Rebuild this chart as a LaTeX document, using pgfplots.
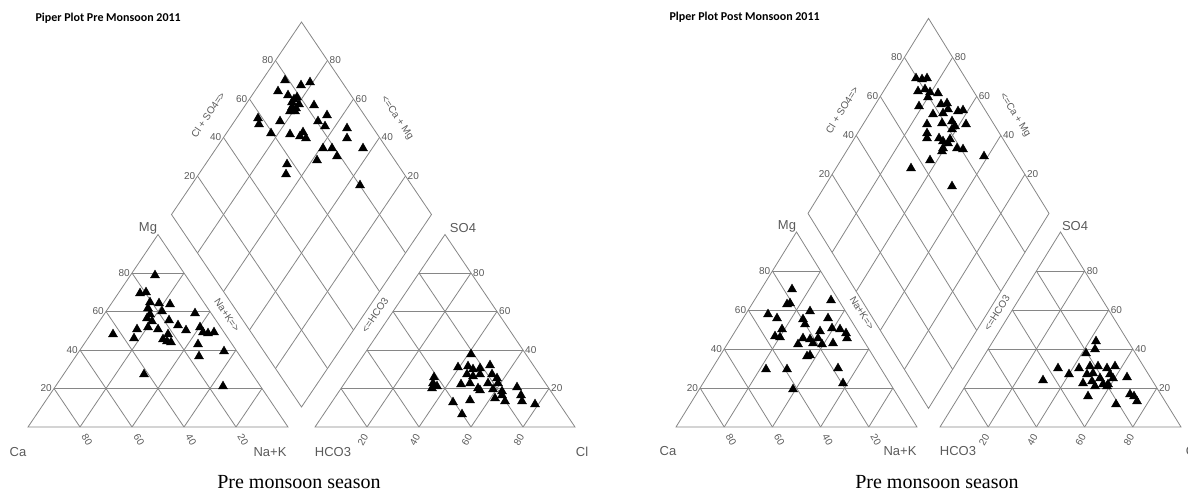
\documentclass[border=0pt]{standalone}
\usepackage{fontspec}
\setmainfont{Liberation Serif}
\newfontfamily\arial{Liberation Sans}
\newfontfamily\calibri{Carlito}
\usepackage{pgfplots}
\pgfplotsset{compat=1.18}
\definecolor{gridc}{HTML}{868686}
\definecolor{txtc}{HTML}{5A5A5A}
\newcommand{\tl}{\fontsize{10}{10}\selectfont\arial\color{txtc}}
\newcommand{\al}{\fontsize{10}{10}\selectfont\arial\color{txtc}}
\newcommand{\cl}{\fontsize{13}{13}\selectfont\arial\color{txtc}}

% #1 x0 (Ca corner), #2 y0 (base), #3 side, #4 height, #5 gap
\newcommand{\piper}[5]{%
\draw[gridc,line width=0.8pt] (#1,#2) -- ({#1+#3},#2) -- ({#1+#3/2},{#2-#4}) -- cycle;
\draw[gridc,line width=0.8pt] ({#1+#3+#5},#2) -- ({#1+2*#3+#5},#2) -- ({#1+1.5*#3+#5},{#2-#4}) -- cycle;
\draw[gridc,line width=0.8pt] ({#1+#3+#5/2},{#2-#4*#5/#3}) -- ({#1+#3/2+#5/2},{#2-#4*#5/#3-#4}) -- ({#1+#3+#5/2},{#2-#4*#5/#3-2*#4}) -- ({#1+1.5*#3+#5/2},{#2-#4*#5/#3-#4}) -- cycle;
\pgfplotsinvokeforeach{1,2,3,4}{%
  \draw[gridc,line width=0.8pt] ({#1+##1/5*#3/2},{#2-##1/5*#4}) -- ({#1+#3-##1/5*#3/2},{#2-##1/5*#4});
  \draw[gridc,line width=0.8pt] ({#1+##1/5*#3},#2) -- ({#1+##1/5*#3+(1-##1/5)*#3/2},{#2-(1-##1/5)*#4});
  \draw[gridc,line width=0.8pt] ({#1+##1/5*#3},#2) -- ({#1+##1/5*#3/2},{#2-##1/5*#4});
  \draw[gridc,line width=0.8pt] ({#1+#3+#5+##1/5*#3/2},{#2-##1/5*#4}) -- ({#1+2*#3+#5-##1/5*#3/2},{#2-##1/5*#4});
  \draw[gridc,line width=0.8pt] ({#1+#3+#5+##1/5*#3},#2) -- ({#1+#3+#5+##1/5*#3+(1-##1/5)*#3/2},{#2-(1-##1/5)*#4});
  \draw[gridc,line width=0.8pt] ({#1+#3+#5+##1/5*#3},#2) -- ({#1+#3+#5+##1/5*#3/2},{#2-##1/5*#4});
  \draw[gridc,line width=0.8pt] ({#1+#3+#5/2-##1/5*#3/2},{#2-#4*#5/#3-##1/5*#4}) -- ({#1+#3+#5/2-##1/5*#3/2+#3/2},{#2-#4*#5/#3-##1/5*#4-#4});
  \draw[gridc,line width=0.8pt] ({#1+#3+#5/2+##1/5*#3/2},{#2-#4*#5/#3-##1/5*#4}) -- ({#1+#3+#5/2+##1/5*#3/2-#3/2},{#2-#4*#5/#3-##1/5*#4-#4});
  \node[anchor=east,inner sep=2pt,font=\tl] at ({#1+##1/5*#3/2},{#2-##1/5*#4}) {\the\numexpr20*##1\relax};
  \node[rotate=-60,font=\tl] at ({#1+##1/5*#3+7},{#2+13}) {\the\numexpr100-20*##1\relax};
  \node[anchor=west,inner sep=2pt,font=\tl] at ({#1+2*#3+#5-##1/5*#3/2},{#2-##1/5*#4}) {\the\numexpr20*##1\relax};
  \node[rotate=60,font=\tl] at ({#1+#3+#5+##1/5*#3-4},{#2+13}) {\the\numexpr20*##1\relax};
  \node[anchor=east,inner sep=2pt,font=\tl] at ({#1+#3/2+#5/2+##1/5*#3/2},{#2-#4*#5/#3-#4-##1/5*#4}) {\the\numexpr20*##1\relax};
  \node[anchor=west,inner sep=2pt,font=\tl] at ({#1+1.5*#3+#5/2-##1/5*#3/2},{#2-#4*#5/#3-#4-##1/5*#4}) {\the\numexpr20*##1\relax};
}%
}

\pgfplotstableread{
x y
285 79
301 84
310 81
278 90
288 94
297 96
292 101
294 98
292 106
296 107
295 110
290 110
299 103
314 104
258 117
259 123
280 120
318 120
327 114
325 125
271 132
290 133
303 131
306 137
300 135
347 127
347 137
323 147
332 147
337 155
363 147
317 159
287 163
286 173
360 184
}\preD
\pgfplotstableread{
x y
155 274
140 292
146 291
150 301
159 302
170 303
148 307
150 313
147 317
152 320
162 310
195 312
169 319
178 324
186 329
137 328
113 333
134 337
148 326
158 328
168 333
163 338
167 340
171 341
200 326
203 331
208 332
214 331
198 343
224 350
199 355
144 373
223 385
}\preC
\pgfplotstableread{
x y
471 353
458 366
468 365
473 368
480 367
490 364
467 373
473 375
480 373
492 373
497 377
488 382
498 382
461 383
470 382
478 387
480 389
493 388
502 390
434 376
433 382
437 385
432 387
495 397
502 394
505 400
517 386
521 394
522 400
535 403
453 401
470 399
462 413
}\preA
\pgfplotstableread{
x y
916 77
922 78
927 77
918 90
925 88
930 91
928 96
938 92
919 105
941 103
947 102
948 108
933 113
943 112
958 110
963 109
927 123
942 122
952 120
955 125
966 123
952 128
927 132
927 137
939 137
943 140
948 142
950 138
957 147
963 148
943 147
942 150
984 155
930 159
911 167
952 185
}\postD
\pgfplotstableread{
x y
792 288
787 303
790 302
831 299
768 313
777 317
810 310
803 318
805 323
828 317
782 328
775 335
780 336
832 327
840 328
846 332
847 337
820 330
818 337
803 337
798 343
813 342
822 343
833 342
810 338
807 355
810 354
766 368
787 368
838 367
843 382
793 388
}\postC
\pgfplotstableread{
x y
1096 340
1095 348
1086 352
1058 367
1069 373
1079 367
1090 365
1098 365
1107 367
1115 365
1043 379
1087 373
1093 372
1100 377
1110 373
1113 377
1083 382
1092 380
1103 383
1108 383
1127 376
1088 395
1116 403
1130 393
1134 395
1137 400
1107 385
1095 385
}\postA

\begin{document}
\begin{tikzpicture}
\begin{axis}[width=1188pt,height=492pt,scale only axis,hide axis,
  xmin=0,xmax=1188,ymin=0,ymax=492,y dir=reverse,clip=false,
  pts/.style={only marks,mark=triangle*,mark size=5.2pt,draw=black,fill=black,mark options={fill=black,draw=black,yshift=-1.3pt}}]
\piper{28}{427}{260}{192.5}{27}
\piper{676}{427}{241}{195}{23}
\addplot[pts] table[x=x,y=y] {\preD};
\addplot[pts] table[x=x,y=y] {\preC};
\addplot[pts] table[x=x,y=y] {\preA};
\addplot[pts] table[x=x,y=y] {\postD};
\addplot[pts] table[x=x,y=y] {\postC};
\addplot[pts] table[x=x,y=y] {\postA};
% left panel texts
\node[anchor=west,font=\fontsize{12}{12}\selectfont\calibri\bfseries] at (32,18) {Piper Plot Pre Monsoon 2011};
\node[rotate=56,font=\al] at (208,115) {Cl + SO4=>};
\node[rotate=-56,font=\al] at (227,315) {Na+K=>};
\node[rotate=-56,font=\al] at (397,118) {<=Ca + Mg};
\node[rotate=56,font=\al] at (375,315) {<=HCO3};
\node[font=\cl] at (18,452) {Ca};
\node[font=\cl] at (270,452) {Na+K};
\node[font=\cl] at (333,452) {HCO3};
\node[font=\cl] at (582,452) {Cl};
\node[font=\cl] at (148,228) {Mg};
\node[font=\cl] at (463,228) {SO4};
\node[font=\fontsize{20}{20}\selectfont] at (299,482) {Pre monsoon season};
% right panel texts
\node[anchor=west,font=\fontsize{12}{12}\selectfont\calibri\bfseries] at (666,17) {Plper Plot Post Monsoon 2011};
\node[rotate=58,font=\al] at (842,110) {Cl + SO4=>};
\node[rotate=-58,font=\al] at (1015,115) {<=Ca + Mg};
\node[rotate=-58,font=\al] at (862,313) {Na+K=>};
\node[rotate=58,font=\al] at (997,313) {<=HCO3};
\node[font=\cl] at (668,451) {Ca};
\node[font=\cl] at (900,451) {Na+K};
\node[font=\cl] at (958,451) {HCO3};
\node[font=\cl] at (1192,451) {Cl};
\node[font=\cl] at (787,226) {Mg};
\node[font=\cl] at (1075,226) {SO4};
\node[font=\fontsize{20}{20}\selectfont] at (937,482) {Pre monsoon season};
\end{axis}
\pgfresetboundingbox
\useasboundingbox (current axis.south west) rectangle (current axis.north east);
\end{tikzpicture}
\end{document}
